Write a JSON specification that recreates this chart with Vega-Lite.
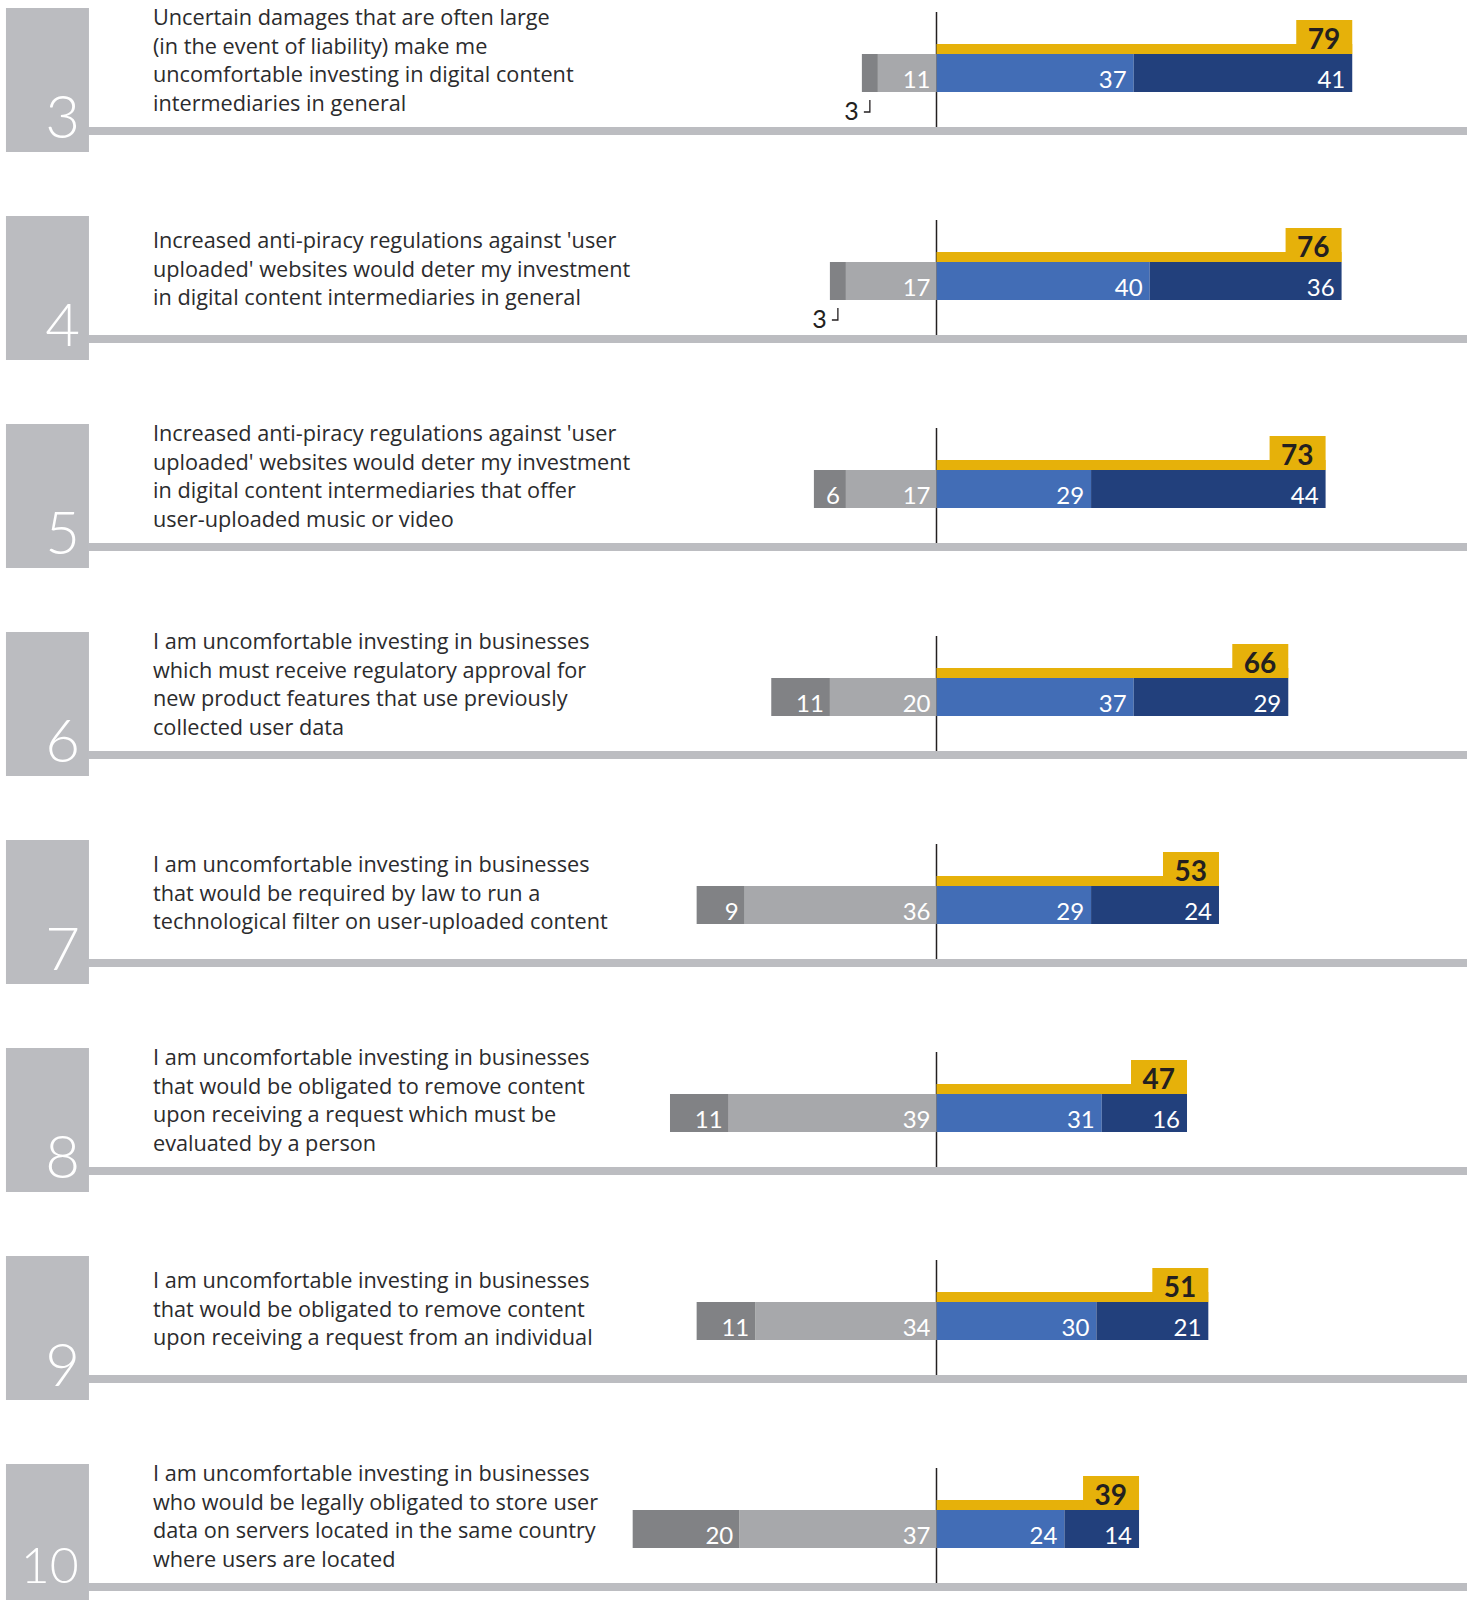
{
  "$schema": "https://vega.github.io/schema/vega-lite/v6.json",
  "width": 1467,
  "height": 1600,
  "autosize": "none",
  "padding": 0,
  "background": "white",
  "config": {"view": {"stroke": null}},
  "data": {
    "values": [
      {"q": 3, "text": "Uncertain damages that are often large\n(in the event of liability) make me\nuncomfortable investing in digital content\nintermediaries in general", "strongly_disagree": 3, "disagree": 11, "agree": 37, "strongly_agree": 41, "total": 79},
      {"q": 4, "text": "Increased anti-piracy regulations against 'user\nuploaded' websites would deter my investment\nin digital content intermediaries in general", "strongly_disagree": 3, "disagree": 17, "agree": 40, "strongly_agree": 36, "total": 76},
      {"q": 5, "text": "Increased anti-piracy regulations against 'user\nuploaded' websites would deter my investment\nin digital content intermediaries that offer\nuser-uploaded music or video", "strongly_disagree": 6, "disagree": 17, "agree": 29, "strongly_agree": 44, "total": 73},
      {"q": 6, "text": "I am uncomfortable investing in businesses\nwhich must receive regulatory approval for\nnew product features that use previously\ncollected user data", "strongly_disagree": 11, "disagree": 20, "agree": 37, "strongly_agree": 29, "total": 66},
      {"q": 7, "text": "I am uncomfortable investing in businesses\nthat would be required by law to run a\ntechnological filter on user-uploaded content", "strongly_disagree": 9, "disagree": 36, "agree": 29, "strongly_agree": 24, "total": 53},
      {"q": 8, "text": "I am uncomfortable investing in businesses\nthat would be obligated to remove content\nupon receiving a request which must be\nevaluated by a person", "strongly_disagree": 11, "disagree": 39, "agree": 31, "strongly_agree": 16, "total": 47},
      {"q": 9, "text": "I am uncomfortable investing in businesses\nthat would be obligated to remove content\nupon receiving a request from an individual", "strongly_disagree": 11, "disagree": 34, "agree": 30, "strongly_agree": 21, "total": 51},
      {"q": 10, "text": "I am uncomfortable investing in businesses\nwho would be legally obligated to store user\ndata on servers located in the same country\nwhere users are located", "strongly_disagree": 20, "disagree": 37, "agree": 24, "strongly_agree": 14, "total": 39}
    ]
  },
  "encoding": {
    "y": {
      "field": "q",
      "type": "ordinal",
      "scale": {"domain": [3, 4, 5, 6, 7, 8, 9, 10], "range": [8, 1672], "paddingInner": 0, "paddingOuter": 0},
      "axis": null
    }
  },
  "layer": [
    {
      "mark": {"type": "bar", "height": 144, "yOffset": -32, "color": "#bbbcc0"},
      "encoding": {
        "x": {"datum": -174.58, "type": "quantitative", "scale": {"domain": [-175.7, 99.53], "nice": false, "zero": false}, "axis": null},
        "x2": {"datum": -159.01}
      }
    },
    {
      "mark": {"type": "bar", "height": 8, "yOffset": 19, "color": "#bcbdc1"},
      "encoding": {
        "x": {"datum": -159.01, "type": "quantitative", "scale": {"domain": [-175.7, 99.53], "nice": false, "zero": false}, "axis": null},
        "x2": {"datum": 99.53}
      }
    },
    {
      "mark": {"type": "tick", "orient": "vertical", "size": 115, "thickness": 1.5, "yOffset": -42.5, "color": "#231f20", "opacity": 1},
      "encoding": {
        "x": {"datum": 0, "type": "quantitative", "scale": {"domain": [-175.7, 99.53], "nice": false, "zero": false}, "axis": null}
      }
    },
    {
      "transform": [{"filter": "datum.q < 10"}],
      "mark": {"type": "text", "align": "right", "baseline": "alphabetic", "font": "Lato", "fontWeight": 300, "fontSize": 60, "color": "#ffffff", "yOffset": 26},
      "encoding": {
        "x": {"datum": -160.7, "type": "quantitative", "scale": {"domain": [-175.7, 99.53], "nice": false, "zero": false}, "axis": null},
        "text": {"field": "q", "type": "nominal"}
      }
    },
    {
      "transform": [{"filter": "datum.q >= 10"}],
      "mark": {"type": "text", "align": "right", "baseline": "alphabetic", "font": "Lato", "fontWeight": 300, "fontSize": 50, "color": "#ffffff", "yOffset": 15},
      "encoding": {
        "x": {"datum": -160.9, "type": "quantitative", "scale": {"domain": [-175.7, 99.53], "nice": false, "zero": false}, "axis": null},
        "text": {"field": "q", "type": "nominal"}
      }
    },
    {
      "transform": [{"filter": "length(split(datum.text, '\\n')) >= 4"}],
      "mark": {"type": "text", "align": "left", "baseline": "alphabetic", "lineBreak": "\n", "lineHeight": 28.5, "font": "Open Sans", "fontSize": 21.7, "color": "#2b2b2d", "yOffset": -87},
      "encoding": {
        "x": {"datum": -147.0, "type": "quantitative", "scale": {"domain": [-175.7, 99.53], "nice": false, "zero": false}, "axis": null},
        "text": {"field": "text", "type": "nominal"}
      }
    },
    {
      "transform": [{"filter": "length(split(datum.text, '\\n')) < 4"}],
      "mark": {"type": "text", "align": "left", "baseline": "alphabetic", "lineBreak": "\n", "lineHeight": 28.5, "font": "Open Sans", "fontSize": 21.7, "color": "#2b2b2d", "yOffset": -72},
      "encoding": {
        "x": {"datum": -147.0, "type": "quantitative", "scale": {"domain": [-175.7, 99.53], "nice": false, "zero": false}, "axis": null},
        "text": {"field": "text", "type": "nominal"}
      }
    },
    {
      "transform": [
        {"fold": ["agree", "disagree", "strongly_agree", "strongly_disagree"], "as": ["key", "pct"]},
        {"calculate": "indexof(datum.key, 'disagree') >= 0 ? -datum.pct : datum.pct", "as": "sv"},
        {"stack": "sv", "groupby": ["q"], "sort": [{"field": "key", "order": "ascending"}], "as": ["v0", "v1"], "offset": "zero"}
      ],
      "layer": [
        {
          "mark": {"type": "bar", "height": 38, "yOffset": -39},
          "encoding": {
            "x": {"field": "v0", "type": "quantitative", "scale": {"domain": [-175.7, 99.53], "nice": false, "zero": false}, "axis": null},
            "x2": {"field": "v1"},
            "color": {"field": "key", "type": "nominal", "scale": {"domain": ["agree", "disagree", "strongly_agree", "strongly_disagree"], "range": ["#426db6", "#a7a8ab", "#22407c", "#818285"]}, "legend": null}
          }
        },
        {
          "transform": [{"filter": "datum.key == 'strongly_agree'"}],
          "mark": {"type": "bar", "height": 10, "yOffset": -63, "color": "#e6b10a"},
          "encoding": {
            "x": {"field": "v1", "type": "quantitative", "scale": {"domain": [-175.7, 99.53], "nice": false, "zero": false}, "axis": null},
            "x2": {"datum": 0}
          }
        },
        {
          "transform": [{"filter": "datum.key == 'strongly_agree'"}],
          "mark": {"type": "tick", "orient": "vertical", "size": 34, "thickness": 56, "xOffset": -28, "yOffset": -75, "color": "#e6b10a", "opacity": 1},
          "encoding": {
            "x": {"field": "v1", "type": "quantitative", "scale": {"domain": [-175.7, 99.53], "nice": false, "zero": false}, "axis": null}
          }
        },
        {
          "transform": [{"filter": "datum.key == 'strongly_agree'"}],
          "mark": {"type": "text", "align": "right", "baseline": "alphabetic", "dx": -12, "yOffset": -63, "font": "Lato", "fontWeight": "bold", "fontSize": 28, "color": "#231f20"},
          "encoding": {
            "x": {"field": "v1", "type": "quantitative", "scale": {"domain": [-175.7, 99.53], "nice": false, "zero": false}, "axis": null},
            "text": {"field": "total", "type": "nominal"}
          }
        },
        {
          "transform": [{"filter": "datum.sv >= 5"}],
          "mark": {"type": "text", "align": "right", "baseline": "alphabetic", "dx": -7, "yOffset": -24, "font": "Lato", "fontSize": 24, "color": "#ffffff"},
          "encoding": {
            "x": {"field": "v1", "type": "quantitative", "scale": {"domain": [-175.7, 99.53], "nice": false, "zero": false}, "axis": null},
            "text": {"field": "pct", "type": "nominal"}
          }
        },
        {
          "transform": [{"filter": "datum.sv <= -5"}],
          "mark": {"type": "text", "align": "right", "baseline": "alphabetic", "dx": -6, "yOffset": -24, "font": "Lato", "fontSize": 24, "color": "#ffffff"},
          "encoding": {
            "x": {"field": "v0", "type": "quantitative", "scale": {"domain": [-175.7, 99.53], "nice": false, "zero": false}, "axis": null},
            "text": {"field": "pct", "type": "nominal"}
          }
        },
        {
          "transform": [{"filter": "datum.sv < 0 && datum.sv > -5"}],
          "mark": {"type": "text", "align": "right", "baseline": "alphabetic", "dx": -19, "yOffset": 8, "font": "Lato", "fontSize": 25, "color": "#231f20"},
          "encoding": {
            "x": {"field": "v0", "type": "quantitative", "scale": {"domain": [-175.7, 99.53], "nice": false, "zero": false}, "axis": null},
            "text": {"field": "pct", "type": "nominal"}
          }
        },
        {
          "transform": [{"filter": "datum.sv < 0 && datum.sv > -5"}],
          "mark": {"type": "point", "shape": "M0,-1L0,1L-1,1", "size": 144, "filled": false, "strokeWidth": 1.3, "color": "#231f20", "opacity": 1, "xOffset": -8, "yOffset": -6},
          "encoding": {
            "x": {"field": "v0", "type": "quantitative", "scale": {"domain": [-175.7, 99.53], "nice": false, "zero": false}, "axis": null}
          }
        }
      ]
    }
  ]
}
